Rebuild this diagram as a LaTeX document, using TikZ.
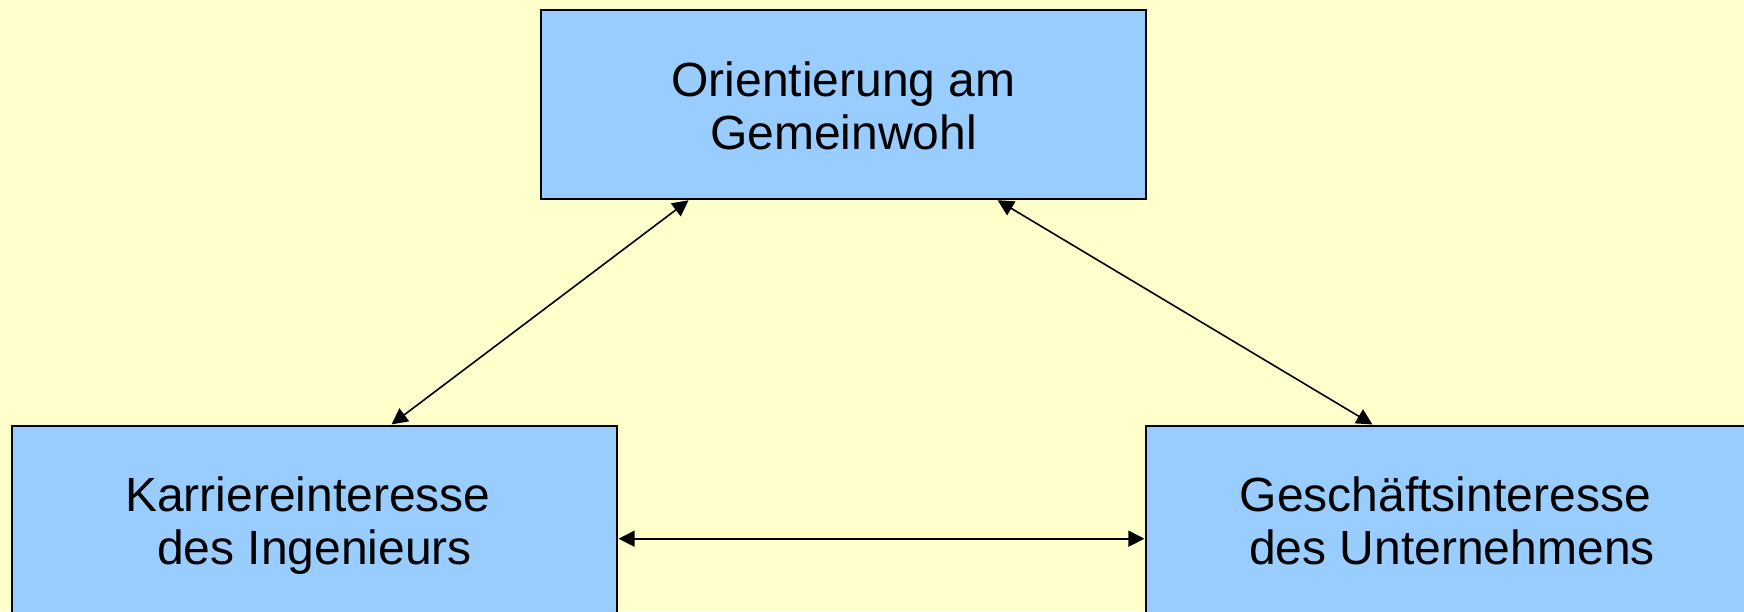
\documentclass[tikz,border=0pt]{standalone}
\usepackage{fontspec}
\setmainfont{Liberation Sans}
\usetikzlibrary{arrows.meta}
\definecolor{bgyellow}{HTML}{FFFFCC}
\definecolor{boxblue}{HTML}{99CCFF}
\tikzset{
  box/.style={draw=black, line width=1.6pt, fill=boxblue, rectangle, inner sep=0pt,
    align=center, font=\fontsize{48}{52.5}\selectfont, text height=89.4pt, text depth=0pt},
  biarrow/.style={line width=1.6pt, {Triangle[length=16pt,width=16pt]}-{Triangle[length=16pt,width=16pt]}, shorten <=0.8pt, shorten >=0.8pt}
}
\begin{document}
\begin{tikzpicture}[x=1pt,y=-1pt]
\fill[bgyellow] (0,0) rectangle (1744,611);
\useasboundingbox (0,0) rectangle (1744,611);
\node[box, minimum width=605pt, minimum height=189pt] (top) at (843.5,104.5) {Orientierung am\\Gemeinwohl};
\node[box, minimum width=605pt, minimum height=188pt] (kl) at (314.5,519.7) {Karriereinteresse\hspace*{.28em}\\des Ingenieurs};
\node[box, minimum width=612pt, minimum height=188pt] (gu) at (1452,519.7) {Geschäftsinteresse\hspace*{.28em}\\des Unternehmens};
\draw[biarrow] ([xshift=149pt]top.south west) -- ([xshift=379.7pt]kl.north west);
\draw[biarrow] ([xshift=456.7pt]top.south west) -- ([xshift=228pt]gu.north west);
\draw[biarrow] ([yshift=-19pt]kl.east) -- ([yshift=-19pt]gu.west);
\end{tikzpicture}
\end{document}
